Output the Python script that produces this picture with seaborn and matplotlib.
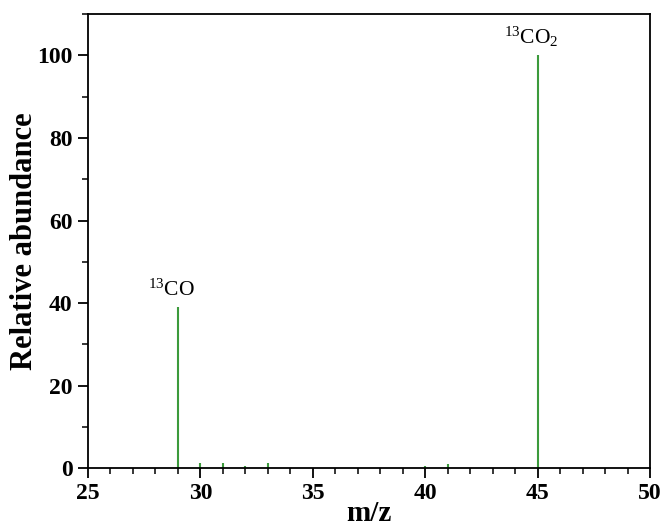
import matplotlib as mpl
import matplotlib.pyplot as plt
import seaborn as sns

mpl.use("Agg")

# peak list
mz = [29, 30, 31, 32, 33, 40, 41, 45]
abundance = [39, 1.2, 1.3, 0.4, 1.2, 0.4, 1.0, 100]
peak_labels = {29: r"$^{13}$CO", 45: r"$^{13}$CO$_2$"}

sns.set_theme(style="ticks")
plt.rcParams["font.family"] = ["Liberation Serif", "DejaVu Serif"]
plt.rcParams["mathtext.fontset"] = "custom"
plt.rcParams["mathtext.rm"] = "Liberation Serif"
plt.rcParams["mathtext.it"] = "Liberation Serif:italic"
plt.rcParams["mathtext.bf"] = "Liberation Serif:bold"

fig, ax = plt.subplots(figsize=(6.66, 5.26), dpi=100)
ax.vlines(mz, 0, abundance, color="#3c9a3c", linewidth=1.5)

for x, y in zip(mz, abundance):
    if x in peak_labels:
        ax.text(x - 0.3, y + 1.5, peak_labels[x], ha="center", va="bottom",
                fontsize=15.5, color="black")

ax.set_xlim(25, 50)
ax.set_ylim(0, 110)
ax.set_xticks([25, 30, 35, 40, 45, 50])
ax.set_yticks([0, 20, 40, 60, 80, 100])
ax.xaxis.set_minor_locator(mpl.ticker.MultipleLocator(1))
ax.yaxis.set_minor_locator(mpl.ticker.MultipleLocator(10))
ax.tick_params(which="major", direction="out", length=7, width=1.3,
               labelsize=17, colors="black", pad=4)
ax.tick_params(which="minor", direction="out", length=4.5, width=1.1,
               colors="black")
for lab in ax.get_xticklabels() + ax.get_yticklabels():
    lab.set_fontweight("bold")
for sp in ax.spines.values():
    sp.set_visible(True)
    sp.set_linewidth(1.3)
    sp.set_color("black")

ax.set_xlabel("m/z", fontsize=21, fontweight="bold", labelpad=-3,
              color="black")
ax.set_ylabel("Relative abundance", fontsize=22, fontweight="bold",
              labelpad=-1, color="black")

fig.subplots_adjust(left=0.132, right=0.976, top=0.973, bottom=0.11)
fig.savefig("out.png", dpi=100)
